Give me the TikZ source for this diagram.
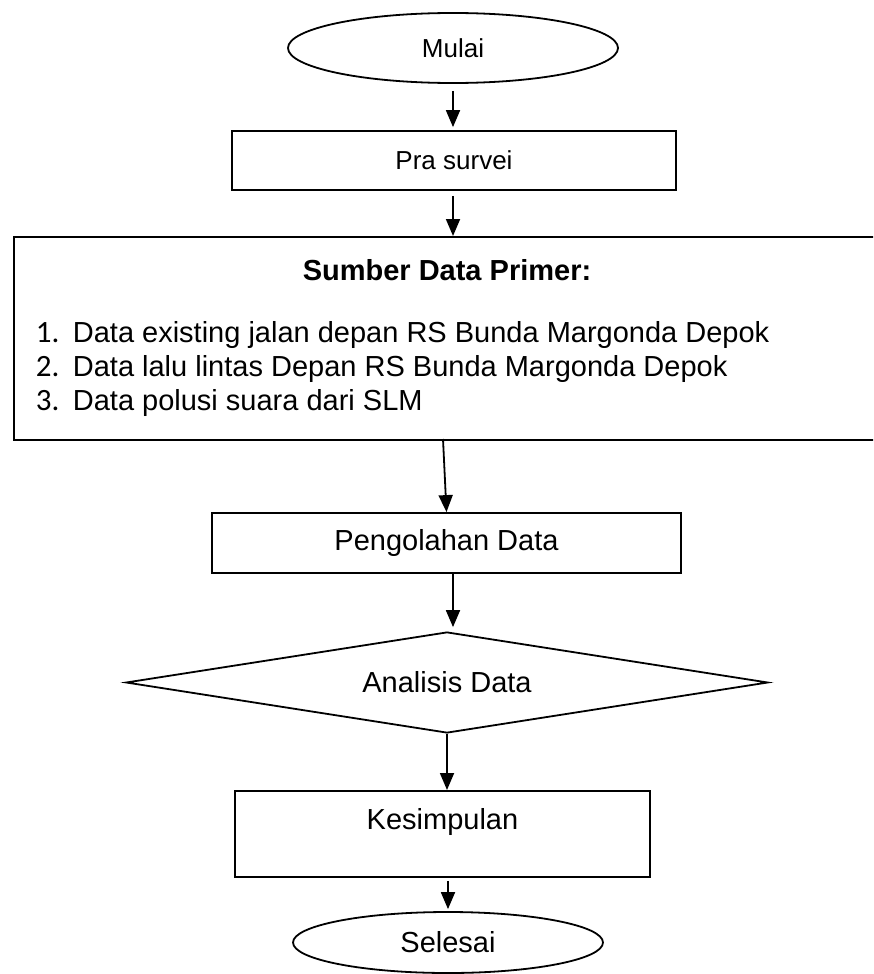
\documentclass[tikz,border=0pt]{standalone}
\usepackage{fontspec}
\setmainfont{Liberation Sans}
\newfontfamily\numfont{Carlito}
\usetikzlibrary{shapes.geometric,arrows.meta}
\begin{document}
\begin{tikzpicture}[x=1pt,y=-1pt,
  line width=1.8pt,
  arr/.style={-{Triangle[length=17pt,width=14pt]}, line width=1.8pt},
  box/.style={draw, rectangle, inner sep=0pt},
  term/.style={draw, ellipse, inner sep=0pt},
  bigtxt/.style={font=\fontsize{29}{35}\selectfont},
  smalltxt/.style={font=\fontsize{26}{31}\selectfont},
  headtxt/.style={font=\fontsize{29}{35}\selectfont\bfseries, inner sep=0pt},
  itemtxt/.style={font=\fontsize{29}{35}\selectfont, inner sep=0pt, anchor=base west},
  numtxt/.style={font=\fontsize{31}{35}\selectfont\numfont, inner sep=0pt, anchor=base west}]
\clip (0,0) rectangle (873,974);
\fill[white] (0,0) rectangle (873,974);
% terminals and boxes
\node[term, smalltxt, minimum width=330pt, minimum height=70pt] (mulai) at (453,48) {Mulai};
\node[box, smalltxt, minimum width=444pt, minimum height=59pt] (pra) at (454,160.5) {Pra survei};
\node[box, minimum width=900pt, minimum height=203pt, anchor=north west] (src) at (13,236) {};
\node[headtxt, anchor=base] (head) at (447,280) {Sumber Data Primer:};
\node[numtxt] (n1) at (35,342) {1.};
\node[itemtxt] (t1) at (72,342) {Data existing jalan depan RS Bunda Margonda Depok};
\node[numtxt] (n2) at (35,376) {2.};
\node[itemtxt] (t2) at (72,376) {Data lalu lintas Depan RS Bunda Margonda Depok};
\node[numtxt] (n3) at (35,410) {3.};
\node[itemtxt] (t3) at (72,410) {Data polusi suara dari SLM};
\node[box, bigtxt, minimum width=469pt, minimum height=60pt] (peng) at (446.5,543) {Pengolahan Data};
\node[draw, diamond, aspect=6.36, minimum width=642pt, minimum height=101pt, inner sep=0pt, bigtxt] (ana) at (447,682.5) {Analisis Data};
\node[box, bigtxt, minimum width=415pt, text height=38.4pt, text depth=47.6pt, anchor=north] (kes) at (442.5,790) {Kesimpulan};
\node[term, bigtxt, minimum width=310pt, minimum height=61pt] (sel) at (448,942.5) {Selesai};
% connectors
\coordinate (s3) at (443,439);
\draw[arr, shorten <=7pt, shorten >=3pt] (mulai.south) -- (mulai.south |- pra.north);
\draw[arr, shorten <=5pt] ([xshift=-1pt]pra.south) -- ([xshift=-1pt]pra.south |- src.north);
\draw[arr] (s3) -- (peng.north);
\draw[arr, shorten >=4pt] ([xshift=6.5pt]peng.south) -- ([xshift=6.5pt]peng.south |- ana.north);
\draw[arr] (ana.south) -- (ana.south |- kes.north);
\draw[arr, shorten <=3pt, shorten >=2pt] (sel.north |- kes.south) -- (sel.north);
\end{tikzpicture}
\end{document}
